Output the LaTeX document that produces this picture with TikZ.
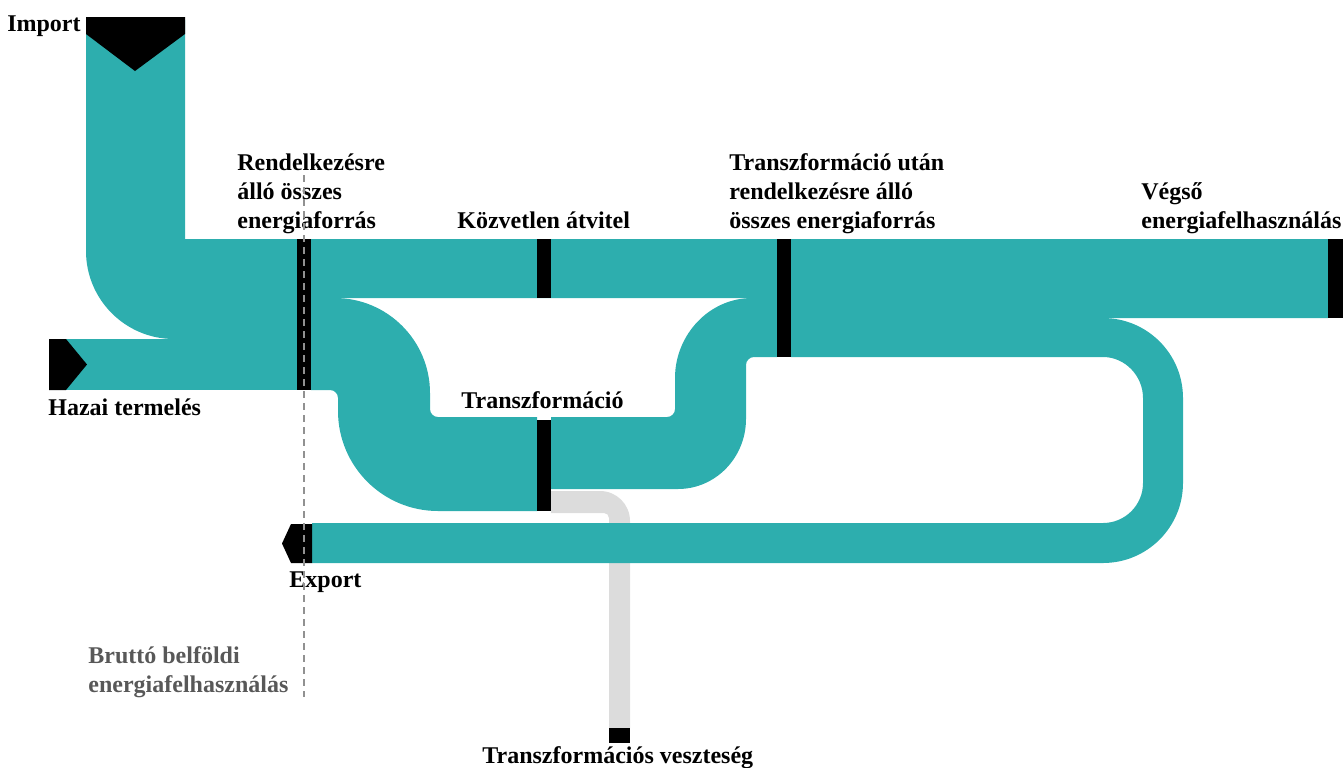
\documentclass[tikz,border=0pt]{standalone}
\usepackage{fontspec}
\setmainfont{Liberation Serif}
\definecolor{flowteal}{RGB}{45,174,174}
\definecolor{lossgray}{RGB}{220,220,220}
\definecolor{dashgray}{RGB}{145,145,145}
\definecolor{notegray}{RGB}{88,88,88}
\tikzset{
  flow/.style={fill=flowteal},
  lossflow/.style={fill=lossgray},
  barblk/.style={fill=black},
  lbl/.style={font=\fontsize{12}{14.5}\selectfont\bfseries, inner sep=0pt, align=left, text=black},
  note/.style={lbl, text=notegray},
  guide/.style={draw=dashgray, line width=1pt, dash pattern=on 3.5pt off 2.5pt}
}
\begin{document}
\begin{tikzpicture}[x=0.5pt,y=-0.5pt]
\useasboundingbox (0,0) rectangle (1344,767);

% ---------- loss flow (under teal) ----------
\path[lossflow] (551,491) -- (600,491) .. controls (616.6,491) and (630,504.4) .. (630,521)
  -- (630,728) -- (609,728) -- (609,518) .. controls (609,515.2) and (606.8,513) .. (604,513)
  -- (551,513) -- cycle;

% ---------- teal flows ----------
% Import
\path[flow] (86,20) -- (185,20) -- (185,239) -- (298,239) -- (298,339) -- (174,339)
  .. controls (125.4,339) and (86,299.6) .. (86,251) -- cycle;
% Hazai termeles
\path[flow] (60,339) -- (298,339) -- (298,390) -- (60,390) -- cycle;
% main top band
\path[flow] (311,239) -- (1328,239) -- (1328,318) -- (791,318) -- (791,298) -- (311,298) -- cycle;
% left S-bend into Transzformacio
\path[flow] (311,298) -- (335,298) .. controls (387.4,298) and (430,340.6) .. (430,393)
  -- (430,409) .. controls (430,413.4) and (433.6,417) .. (438,417) -- (537,417)
  -- (537,511) -- (438,511) .. controls (382.8,511) and (338,466.2) .. (338,411)
  -- (338,398) .. controls (338,393.6) and (334.4,390) .. (330,390) -- (311,390) -- cycle;
% right S-bend out of Transzformacio
\path[flow] (551,417) -- (667,417) .. controls (671.4,417) and (675,413.4) .. (675,409)
  -- (675,378) .. controls (675,335) and (709,298) .. (752,298) -- (777,298)
  -- (777,357) -- (754,357) .. controls (749.6,357) and (746,360.6) .. (746,365)
  -- (746,419) .. controls (746,457.6) and (715.5,489) .. (678,489) -- (551,489) -- cycle;
% loop to Export
\path[flow] (791,318) -- (1103,318) .. controls (1147.2,318) and (1183,353.8) .. (1183,398)
  -- (1183,483) .. controls (1183,527.2) and (1147.2,563) .. (1103,563) -- (312,563)
  -- (312,523) -- (1103,523) .. controls (1125.1,523) and (1143,505.1) .. (1143,483)
  -- (1143,398) .. controls (1143,375.9) and (1125.1,357) .. (1103,357) -- (791,357) -- cycle;

% ---------- black bars and end shapes ----------
\path[barblk] (86,17) -- (185,17) -- (185,34) -- (135,71) -- (86,34) -- cycle;
\path[barblk] (49,339) -- (66,339) -- (87,364.5) -- (66,390) -- (49,390) -- cycle;
\path[barblk] (312,524) -- (291,524) -- (282,543.5) -- (291,563) -- (312,563) -- cycle;
\path[barblk] (297,239) rectangle (311,390);
\path[barblk] (537,239) rectangle (551,298);
\path[barblk] (537,420) rectangle (551,511);
\path[barblk] (777,239) rectangle (791,357);
\path[barblk] (1328,239) rectangle (1343,318);
\path[barblk] (609,728) rectangle (630,743);

% ---------- labels ----------
\node[lbl, anchor=base east] (import) at (81,31) {Import};
\node[lbl, anchor=base west] (rend) at (237,228) {Rendelkezésre\\álló összes\\energiaforrás};
\node[lbl, anchor=base west] (kozv) at (457,228) {Közvetlen átvitel};
\node[lbl, anchor=base west] (tutan) at (729,228) {Transzformáció után\\rendelkezésre álló\\összes energiaforrás};
\node[lbl, anchor=base west] (vegso) at (1141,228) {Végső\\energiafelhasználás};
\node[lbl, anchor=base west] (hazai) at (48,415) {Hazai termelés};
\node[lbl, anchor=base west] (transz) at (461,408) {Transzformáció};
\node[lbl, anchor=base west] (export) at (289,587) {Export};
\node[note, anchor=base west] (brutto) at (88,692) {Bruttó belföldi\\energiafelhasználás};
\node[lbl, anchor=base west] (veszt) at (482,763) {Transzformációs veszteség};

% ---------- dashed guide ----------
\coordinate (gtop) at (304,175);
\coordinate (gbot) at (304,697);
\draw[guide] (gtop) -- (gbot);
\end{tikzpicture}
\end{document}
